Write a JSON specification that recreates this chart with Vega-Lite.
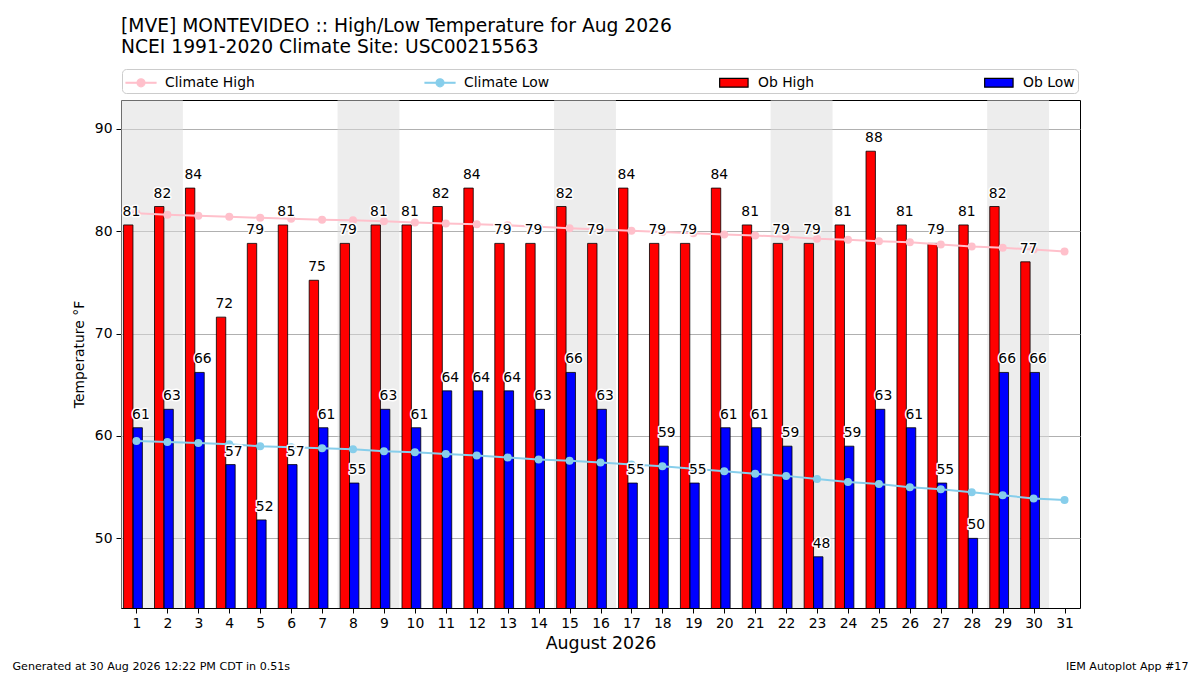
{
  "$schema": "https://vega.github.io/schema/vega-lite/v6.json",
  "width": 959,
  "height": 508,
  "padding": {"left": 12, "top": 16, "right": 12, "bottom": 4},
  "background": "white",
  "config": {
    "font": "DejaVu Sans",
    "view": {"stroke": "black", "strokeWidth": 1},
    "axis": {
      "labelFont": "DejaVu Sans", "titleFont": "DejaVu Sans",
      "labelColor": "black", "titleColor": "black",
      "tickColor": "black", "domainColor": "black",
      "titleFontWeight": "normal"
    },
    "text": {"font": "DejaVu Sans"}
  },
  "title": {
    "text": ["[MVE] MONTEVIDEO :: High/Low Temperature for Aug 2026", "NCEI 1991-2020 Climate Site: USC00215563"],
    "anchor": "start", "frame": "group", "font": "DejaVu Sans", "fontSize": 18.7,
    "fontWeight": "normal", "color": "black", "lineHeight": 21, "offset": 12
  },
  "datasets": {
    "weekends": [
      {"start": 0.5, "end": 2.5},
      {"start": 7.5, "end": 9.5},
      {"start": 14.5, "end": 16.5},
      {"start": 21.5, "end": 23.5},
      {"start": 28.5, "end": 30.5}
    ],
    "days": [
      {"day": 1, "high": 80.6, "low": 60.8, "climate_high": 81.75, "climate_low": 59.5},
      {"day": 2, "high": 82.4, "low": 62.6, "climate_high": 81.6, "climate_low": 59.4},
      {"day": 3, "high": 84.2, "low": 66.2, "climate_high": 81.5, "climate_low": 59.3},
      {"day": 4, "high": 71.6, "low": 57.2, "climate_high": 81.4, "climate_low": 59.2},
      {"day": 5, "high": 78.8, "low": 51.8, "climate_high": 81.3, "climate_low": 59.0},
      {"day": 6, "high": 80.6, "low": 57.2, "climate_high": 81.2, "climate_low": 58.9},
      {"day": 7, "high": 75.2, "low": 60.8, "climate_high": 81.1, "climate_low": 58.8},
      {"day": 8, "high": 78.8, "low": 55.4, "climate_high": 81.05, "climate_low": 58.7},
      {"day": 9, "high": 80.6, "low": 62.6, "climate_high": 80.95, "climate_low": 58.5},
      {"day": 10, "high": 80.6, "low": 60.8, "climate_high": 80.85, "climate_low": 58.4},
      {"day": 11, "high": 82.4, "low": 64.4, "climate_high": 80.75, "climate_low": 58.24},
      {"day": 12, "high": 84.2, "low": 64.4, "climate_high": 80.68, "climate_low": 58.1},
      {"day": 13, "high": 78.8, "low": 64.4, "climate_high": 80.56, "climate_low": 57.9},
      {"day": 14, "high": 78.8, "low": 62.6, "climate_high": 80.43, "climate_low": 57.7},
      {"day": 15, "high": 82.4, "low": 66.2, "climate_high": 80.28, "climate_low": 57.57},
      {"day": 16, "high": 78.8, "low": 62.6, "climate_high": 80.15, "climate_low": 57.4},
      {"day": 17, "high": 84.2, "low": 55.4, "climate_high": 80.03, "climate_low": 57.2},
      {"day": 18, "high": 78.8, "low": 59.0, "climate_high": 79.9, "climate_low": 57.03},
      {"day": 19, "high": 78.8, "low": 55.4, "climate_high": 79.78, "climate_low": 56.8},
      {"day": 20, "high": 84.2, "low": 60.8, "climate_high": 79.67, "climate_low": 56.55},
      {"day": 21, "high": 80.6, "low": 60.8, "climate_high": 79.57, "climate_low": 56.3},
      {"day": 22, "high": 78.8, "low": 59.0, "climate_high": 79.44, "climate_low": 56.1},
      {"day": 23, "high": 78.8, "low": 48.2, "climate_high": 79.25, "climate_low": 55.8},
      {"day": 24, "high": 80.6, "low": 59.0, "climate_high": 79.15, "climate_low": 55.5},
      {"day": 25, "high": 87.8, "low": 62.6, "climate_high": 79.0, "climate_low": 55.3},
      {"day": 26, "high": 80.6, "low": 60.8, "climate_high": 78.9, "climate_low": 55.0},
      {"day": 27, "high": 78.8, "low": 55.4, "climate_high": 78.7, "climate_low": 54.8},
      {"day": 28, "high": 80.6, "low": 50.0, "climate_high": 78.5, "climate_low": 54.5},
      {"day": 29, "high": 82.4, "low": 66.2, "climate_high": 78.37, "climate_low": 54.2},
      {"day": 30, "high": 77.0, "low": 66.2, "climate_high": 78.2, "climate_low": 53.9},
      {"day": 31, "climate_high": 78.0, "climate_low": 53.75}
    ]
  },
  "layer": [
    {
      "data": {"name": "weekends"},
      "mark": {"type": "rect", "fill": "#dcdcdc", "opacity": 0.5},
      "encoding": {
        "x": {"field": "start", "type": "quantitative", "scale": {"domain": [0.5, 31.5], "nice": false, "zero": false}, "axis": null},
        "x2": {"field": "end"}
      }
    },
    {
      "data": {"name": "days"},
      "transform": [{"filter": "isValid(datum.high)"}],
      "encoding": {
        "x": {
          "field": "day", "type": "quantitative",
          "scale": {"domain": [0.5, 31.5], "nice": false, "zero": false, "padding": 0},
          "axis": {
            "orient": "bottom", "values": [1,2,3,4,5,6,7,8,9,10,11,12,13,14,15,16,17,18,19,20,21,22,23,24,25,26,27,28,29,30,31],
            "format": "d", "tickSize": 5, "labelFontSize": 13.9, "labelPadding": 3,
            "grid": false, "domain": false,
            "title": "August 2026", "titleFontSize": 17.4, "titlePadding": 5
          }
        }
      },
      "layer": [
        {
          "mark": {"type": "bar", "width": 9.4, "xOffset": -8.2, "clip": true},
          "encoding": {
            "y": {
              "field": "high", "type": "quantitative",
              "scale": {"domain": [43.2, 92.8], "nice": false, "zero": false},
              "axis": {
                "orient": "left", "values": [50, 60, 70, 80, 90], "grid": true, "gridColor": "#b0b0b0",
                "tickSize": 5, "labelFontSize": 13.9, "labelPadding": 4, "domain": false,
                "title": "Temperature °F", "titleFontSize": 13.9, "titlePadding": 8
              }
            },
            "color": {
              "datum": "Ob High", "type": "nominal",
              "scale": {"domain": ["Climate High", "Climate Low", "Ob High", "Ob Low"], "range": ["pink", "skyblue", "red", "blue"]},
              "legend": {
                "orient": "none", "legendX": 1, "legendY": -31, "direction": "horizontal", "columns": 4,
                "columnPadding": 167, "padding": 3, "strokeColor": "#cccccc", "fillColor": "white",
                "cornerRadius": 4, "title": null, "labelFont": "DejaVu Sans", "labelFontSize": 13.9,
                "labelColor": "black", "labelOffset": 19, "symbolSize": 361, "labelLimit": 300,
                "symbolOpacity": 1, "symbolStrokeWidth": 1.2,
                "symbolType": {"expr": "indexof(datum.value, 'Ob') === 0 ? 'M-0.93,-0.46L2.06,-0.46L2.06,0.46L-0.93,0.46Z' : 'M-1,-0.04L2.16,-0.04L2.16,0.04L-1,0.04ZM0.16,0A0.42,0.42,0,1,1,1,0A0.42,0.42,0,1,1,0.16,0Z'"},
                "symbolStrokeColor": {"expr": "datum.value === 'Climate High' ? 'pink' : datum.value === 'Climate Low' ? 'skyblue' : 'black'"}
              }
            }
          }
        },
        {
          "mark": {"type": "bar", "width": 9.4, "xOffset": 1.2, "clip": true},
          "encoding": {
            "y": {"field": "low", "type": "quantitative"},
            "color": {"datum": "Ob Low", "type": "nominal"}
          }
        },
        {
          "mark": {"type": "bar", "width": 9.4, "xOffset": -8.2, "clip": true, "fill": "transparent", "stroke": "black", "strokeWidth": 0.8},
          "encoding": {
            "y": {"field": "high", "type": "quantitative"}
          }
        },
        {
          "mark": {"type": "bar", "width": 9.4, "xOffset": 1.2, "clip": true, "fill": "transparent", "stroke": "black", "strokeWidth": 0.8},
          "encoding": {
            "y": {"field": "low", "type": "quantitative"}
          }
        }
      ]
    },
    {
      "data": {"name": "days"},
      "encoding": {
        "x": {
          "field": "day", "type": "quantitative",
          "scale": {"domain": [0.5, 31.5], "nice": false, "zero": false},
          "axis": {
            "orient": "top", "labels": false, "ticks": false, "domain": false, "grid": false,
            "title": "Generated at 30 Aug 2026 12:22 PM CDT in 0.51s",
            "titleX": -109, "titleY": 569, "titleAlign": "left", "titleAnchor": "start",
            "titleBaseline": "alphabetic", "titleAngle": 0, "titleFontSize": 11.1
          }
        }
      },
      "layer": [
        {
          "mark": {"type": "line", "strokeWidth": 2, "stroke": "pink"},
          "encoding": {
            "y": {
              "field": "climate_high", "type": "quantitative",
              "scale": {"domain": [43.2, 92.8], "nice": false, "zero": false},
              "axis": {
                "orient": "right", "labels": false, "ticks": false, "domain": false, "grid": false,
                "title": "IEM Autoplot App #17",
                "titleX": 108, "titleY": 569, "titleAlign": "right", "titleAnchor": "end",
                "titleBaseline": "alphabetic", "titleAngle": 0, "titleFontSize": 11.1
              }
            }
          }
        },
        {
          "mark": {"type": "circle", "size": 64, "opacity": 1},
          "encoding": {
            "y": {"field": "climate_high", "type": "quantitative"},
            "color": {"datum": "Climate High", "type": "nominal"}
          }
        },
        {
          "mark": {"type": "line", "strokeWidth": 2, "stroke": "skyblue"},
          "encoding": {
            "y": {"field": "climate_low", "type": "quantitative"}
          }
        },
        {
          "mark": {"type": "circle", "size": 64, "opacity": 1},
          "encoding": {
            "y": {"field": "climate_low", "type": "quantitative"},
            "color": {"datum": "Climate Low", "type": "nominal"}
          }
        },
        {
          "transform": [{"filter": "isValid(datum.high)"}],
          "mark": {"type": "text", "fontSize": 13.9, "baseline": "alphabetic", "align": "center", "dx": -5, "dy": -9, "stroke": "white", "strokeWidth": 3, "strokeJoin": "round"},
          "encoding": {
            "y": {"field": "high", "type": "quantitative"},
            "text": {"field": "high", "type": "quantitative", "format": ".0f"}
          }
        },
        {
          "transform": [{"filter": "isValid(datum.high)"}],
          "mark": {"type": "text", "fontSize": 13.9, "baseline": "alphabetic", "align": "center", "dx": -5, "dy": -9, "fill": "black"},
          "encoding": {
            "y": {"field": "high", "type": "quantitative"},
            "text": {"field": "high", "type": "quantitative", "format": ".0f"}
          }
        },
        {
          "transform": [{"filter": "isValid(datum.low)"}],
          "mark": {"type": "text", "fontSize": 13.9, "baseline": "alphabetic", "align": "center", "dx": 4.5, "dy": -9, "stroke": "white", "strokeWidth": 3, "strokeJoin": "round"},
          "encoding": {
            "y": {"field": "low", "type": "quantitative"},
            "text": {"field": "low", "type": "quantitative", "format": ".0f"}
          }
        },
        {
          "transform": [{"filter": "isValid(datum.low)"}],
          "mark": {"type": "text", "fontSize": 13.9, "baseline": "alphabetic", "align": "center", "dx": 4.5, "dy": -9, "fill": "black"},
          "encoding": {
            "y": {"field": "low", "type": "quantitative"},
            "text": {"field": "low", "type": "quantitative", "format": ".0f"}
          }
        }
      ]
    }
  ],
  "resolve": {
    "scale": {"x": "independent", "y": "independent"},
    "axis": {"x": "independent", "y": "independent"}
  }
}
